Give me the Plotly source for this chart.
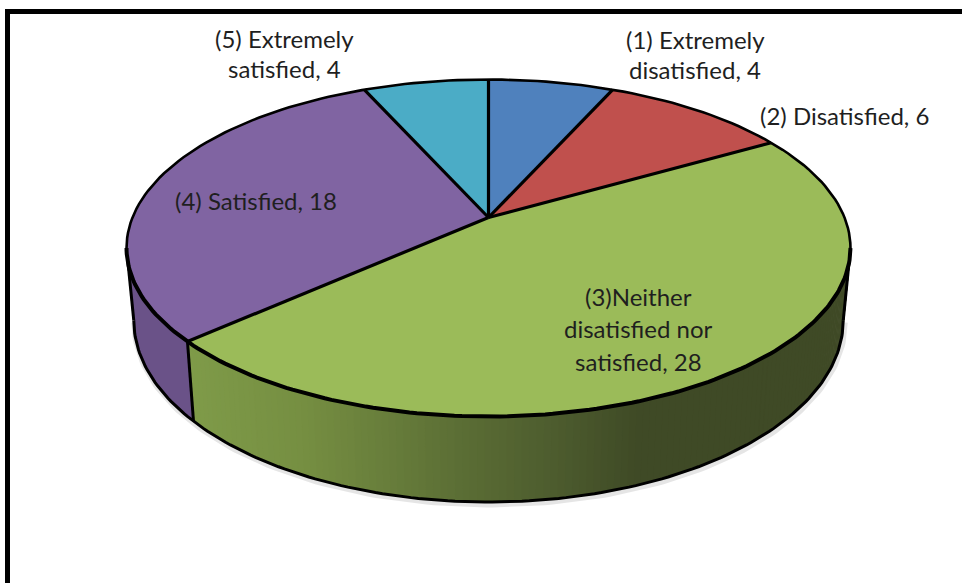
import numpy as np
import plotly.graph_objects as go

# Survey responses, in slice order clockwise from twelve o'clock
categories = ["(1) Extremely disatisfied", "(2) Disatisfied",
              "(3)Neither disatisfied nor satisfied", "(4) Satisfied",
              "(5) Extremely satisfied"]
responses = [4, 6, 28, 18, 4]
top_colors = ["#4F81BD", "#C0504D", "#9BBB59", "#8064A2", "#4BACC6"]
label_lines = [["(1) Extremely", "disatisfied, 4"],
               ["(2) Disatisfied, 6"],
               ["(3)Neither", "disatisfied nor", "satisfied, 28"],
               ["(4) Satisfied, 18"],
               ["(5) Extremely", "satisfied, 4"]]

# Projection of the tilted disc onto the page (units are page pixels)
CX, CY = 488.5, 217.5
RX, RY = 356.0, 163.0
PERSPECTIVE = 0.181
DEPTH = 70.0
BASE_SHRINK = 0.98


def project(theta, drop=0.0):
    """Map a disc angle (clockwise from the top) to page x/y; drop lowers it to the base."""
    u, v = np.sin(theta), np.cos(theta)
    w = 1 + PERSPECTIVE * v
    scale = BASE_SHRINK if drop else 1.0
    return CX + scale * RX * u / w, CY - RY * v / w + drop * DEPTH / w


GREEN_STOPS = [(190, (127, 155, 73)), (300, (118, 143, 66)), (380, (105, 127, 60)),
               (450, (93, 112, 54)), (550, (78, 93, 47)), (640, (63, 74, 38)), (900, (63, 74, 38))]


def green_side(x):
    xs = [s[0] for s in GREEN_STOPS]
    return "rgb(%d,%d,%d)" % tuple(np.interp(x, xs, [s[1][i] for s in GREEN_STOPS]) for i in range(3))


fig = go.Figure()

# Slice boundaries as angles
fractions = np.cumsum([0] + responses) / sum(responses)
angles = fractions * 2 * np.pi
end3 = angles[3]

# The visible wall runs between the disc's widest points on the page
WALL_START = np.arccos(-PERSPECTIVE)
WALL_END = 2 * np.pi - WALL_START

# Soft shadow under the visible rim
rim = np.linspace(WALL_START, WALL_END, 160)
sx, sy = project(rim, 1)
fig.add_trace(go.Scatter(x=sx + 1, y=sy + 2, mode="lines", line=dict(color="rgba(0,0,0,0.10)", width=7),
                         hoverinfo="skip"))

# Green side wall: a strip of thin quads carrying the shading
wall = np.linspace(WALL_START, end3, 130)
for a, b in zip(wall[:-1], wall[1:]):
    t = np.array([a, b + 0.006])
    x1, y1 = project(t)
    x2, y2 = project(t[::-1], 1)
    col = green_side(x1.mean())
    fig.add_trace(go.Scatter(x=np.r_[x1, x2, x1[0]], y=np.r_[y1, y2, y1[0]], mode="lines", fill="toself",
                             fillcolor=col, line=dict(color=col, width=0.6), hoverinfo="skip"))

# Purple side wall
t = np.linspace(end3, WALL_END, 40)
x1, y1 = project(t)
x2, y2 = project(t[::-1], 1)
fig.add_trace(go.Scatter(x=np.r_[x1, x2, x1[0]], y=np.r_[y1, y2, y1[0]], mode="lines", fill="toself",
                         fillcolor="#6A5288", line=dict(width=0), hoverinfo="skip"))

# Rim outline, the wall seam below slice 3/4, and the two outer wall edges
ex, ey = project(rim, 1)
fig.add_trace(go.Scatter(x=ex, y=ey, mode="lines", line=dict(color="black", width=3), hoverinfo="skip"))
for a in (end3, WALL_START, WALL_END):
    sxx, syy = zip(project(a), project(a, 1))
    fig.add_trace(go.Scatter(x=sxx, y=syy, mode="lines", line=dict(color="black", width=3), hoverinfo="skip"))

# Top face, one filled wedge per response category
for name, start, end, color in zip(categories, angles[:-1], angles[1:], top_colors):
    t = np.linspace(start, end, 120)
    x, y = project(t)
    fig.add_trace(go.Scatter(x=np.r_[CX, x, CX], y=np.r_[CY, y, CY], mode="lines", fill="toself", fillcolor=color,
                             line=dict(width=0), name=name, hoverinfo="name"))

# Spokes between the slices
for a in angles[:-1]:
    px, py = project(a)
    fig.add_trace(go.Scatter(x=[CX, px], y=[CY, py], mode="lines", line=dict(color="black", width=3.2),
                             hoverinfo="skip"))

# Outline of the top face: thin at the back, heavier along the front
back = np.linspace(WALL_END - 2 * np.pi, WALL_START, 120)
bx, by = project(back)
fig.add_trace(go.Scatter(x=bx, y=by, mode="lines", line=dict(color="black", width=2.6), hoverinfo="skip"))
fx, fy = project(rim)
fig.add_trace(go.Scatter(x=fx, y=fy, mode="lines", line=dict(color="black", width=4), hoverinfo="skip"))

# Data labels: x centre, first-line y and line spacing per label
label_pos = [(695, 39.5, 29.5), (844.5, 115, 0), (638, 296, 32.5), (256, 200, 0), (284, 38.5, 29.5)]
for lines, (lx, ly, step) in zip(label_lines, label_pos):
    for i, text in enumerate(lines):
        fig.add_annotation(x=lx, y=ly + i * step, text=text, showarrow=False,
                           font=dict(family="Lato", size=24, color="#1f1f1f"), xanchor="center", yanchor="middle")

# Chart frame: left and top bars only, the rest runs off the page
fig.add_shape(type="line", x0=7.5, x1=7.5, y0=9, y1=590, line=dict(color="black", width=5))
fig.add_shape(type="line", x0=5, x1=970, y0=11.5, y1=11.5, line=dict(color="black", width=5))

fig.update_layout(width=962, height=583, margin=dict(l=0, r=0, t=0, b=0), showlegend=False,
                  paper_bgcolor="white", plot_bgcolor="white",
                  xaxis=dict(range=[0, 962], visible=False, fixedrange=True),
                  yaxis=dict(range=[583, 0], visible=False, fixedrange=True))
fig.write_html("out.html", config=dict(displayModeBar=False))
